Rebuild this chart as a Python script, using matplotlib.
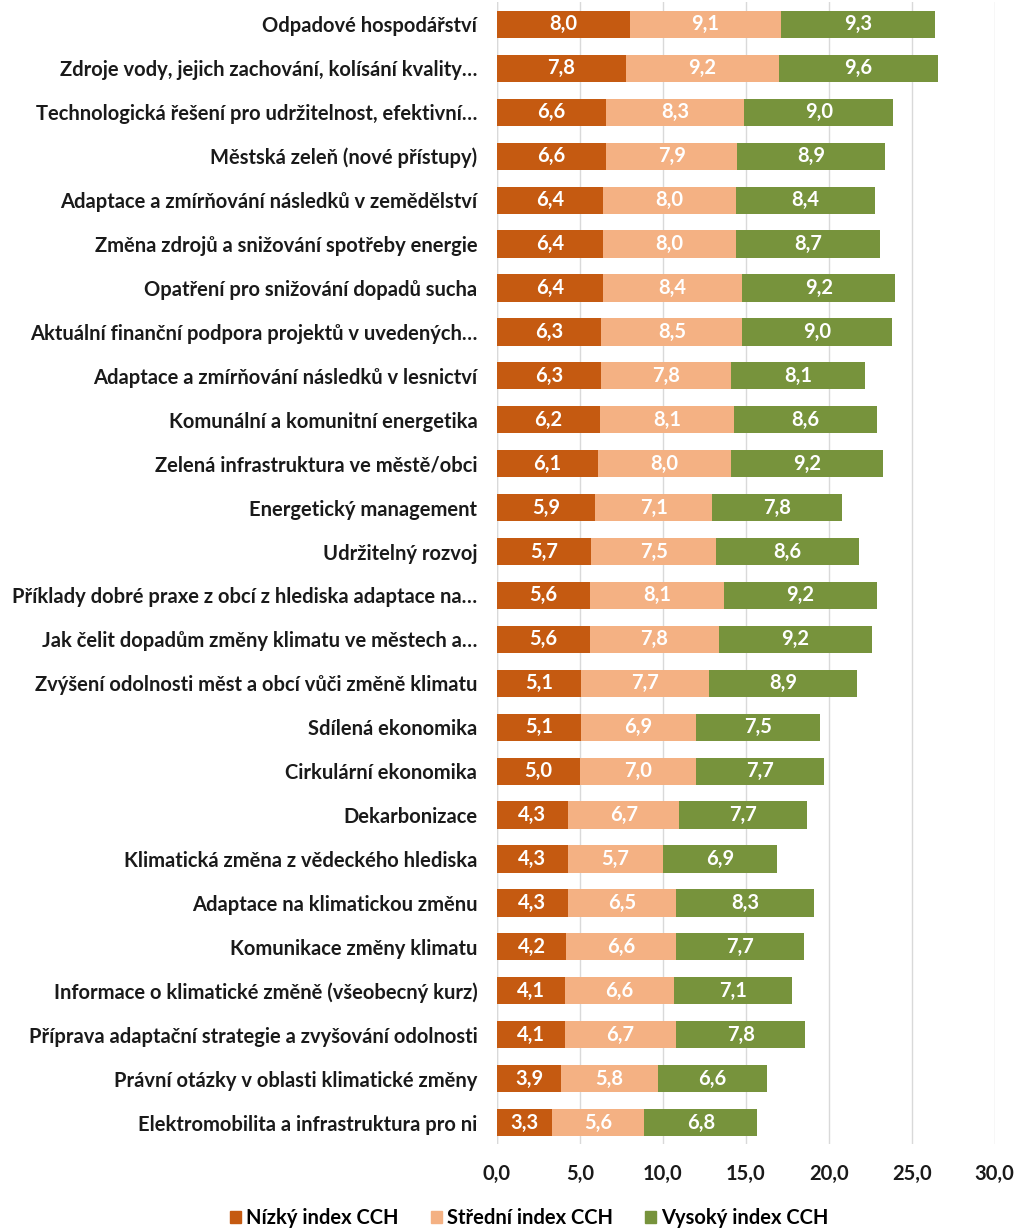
import numpy as np
import matplotlib
matplotlib.use("Agg")
import matplotlib.pyplot as plt
from matplotlib.patches import Patch

categories = [
    "Odpadové hospodářství",
    "Zdroje vody, jejich zachování, kolísání kvality…",
    "Technologická řešení pro udržitelnost, efektivní…",
    "Městská zeleň (nové přístupy)",
    "Adaptace a zmírňování následků v zemědělství",
    "Změna zdrojů a snižování spotřeby energie",
    "Opatření pro snižování dopadů sucha",
    "Aktuální finanční podpora projektů v uvedených…",
    "Adaptace a zmírňování následků v lesnictví",
    "Komunální a komunitní energetika",
    "Zelená infrastruktura ve městě/obci",
    "Energetický management",
    "Udržitelný rozvoj",
    "Příklady dobré praxe z obcí z hlediska adaptace na…",
    "Jak čelit dopadům změny klimatu ve městech a…",
    "Zvýšení odolnosti měst a obcí vůči změně klimatu",
    "Sdílená ekonomika",
    "Cirkulární ekonomika",
    "Dekarbonizace",
    "Klimatická změna z vědeckého hlediska",
    "Adaptace na klimatickou změnu",
    "Komunikace změny klimatu",
    "Informace o klimatické změně (všeobecný kurz)",
    "Příprava adaptační strategie a zvyšování odolnosti",
    "Právní otázky v oblasti klimatické změny",
    "Elektromobilita a infrastruktura pro ni",
]
nizky = [8.0, 7.8, 6.6, 6.6, 6.4, 6.4, 6.4, 6.3, 6.3, 6.2, 6.1, 5.9, 5.7,
         5.6, 5.6, 5.1, 5.1, 5.0, 4.3, 4.3, 4.3, 4.2, 4.1, 4.1, 3.9, 3.3]
stredni = [9.1, 9.2, 8.3, 7.9, 8.0, 8.0, 8.4, 8.5, 7.8, 8.1, 8.0, 7.1, 7.5,
           8.1, 7.8, 7.7, 6.9, 7.0, 6.7, 5.7, 6.5, 6.6, 6.6, 6.7, 5.8, 5.6]
vysoky = [9.3, 9.6, 9.0, 8.9, 8.4, 8.7, 9.2, 9.0, 8.1, 8.6, 9.2, 7.8, 8.6,
          9.2, 9.2, 8.9, 7.5, 7.7, 7.7, 6.9, 8.3, 7.7, 7.1, 7.8, 6.6, 6.8]
series_names = ["Nízký index CCH", "Střední index CCH", "Vysoký index CCH"]
colors = ["#C55A11", "#F4B183", "#77933C"]
xticks = [0, 5, 10, 15, 20, 25, 30]

plt.rcParams['font.family'] = ['Lato', 'DejaVu Sans']
plt.rcParams['font.weight'] = 'bold'
fs = 14.5

fig = plt.figure(figsize=(10.18, 12.28), dpi=100)
ax = fig.add_axes([0.488, 0.068, 0.489, 0.930])

y = np.arange(len(categories))
left = np.zeros(len(categories))
for vals, col in zip([nizky, stredni, vysoky], colors):
    vals = np.array(vals)
    rects = ax.barh(y, vals, left=left, color=col, height=0.62, zorder=3)
    for r, v in zip(rects, vals):
        ax.text(r.get_x() + r.get_width() / 2, r.get_y() + r.get_height() / 2,
                f"{v:.1f}".replace(".", ","), ha="center", va="center",
                color="white", fontsize=fs, fontweight="bold", zorder=4)
    left += vals

ax.set_ylim(len(categories) - 0.5, -0.5)
ax.set_xlim(0, 30)
ax.set_yticks(y)
ax.set_yticklabels(categories, fontsize=fs, fontweight="bold", color="#1a1a1a")
ax.set_xticks(xticks)
ax.set_xticklabels([f"{t:.1f}".replace(".", ",") for t in xticks],
                   fontsize=fs, fontweight="bold", color="#1a1a1a")
ax.tick_params(axis="both", length=0)
ax.tick_params(axis="x", pad=14)
ax.tick_params(axis="y", pad=14)
ax.grid(axis="x", color="#d9d9d9", linewidth=1, zorder=0)
for s in ax.spines.values():
    s.set_visible(False)
ax.axvline(0, color="#d9d9d9", linewidth=1, zorder=1)

handles = [Patch(color=c, label=n) for c, n in zip(colors, series_names)]
fig.legend(handles=handles, loc="center", bbox_to_anchor=(0.52, 0.008),
           ncol=3, frameon=False, fontsize=fs, handlelength=0.55,
           handleheight=0.55, handletextpad=0.25, columnspacing=1.6)

fig.savefig("out.png", dpi=100)
